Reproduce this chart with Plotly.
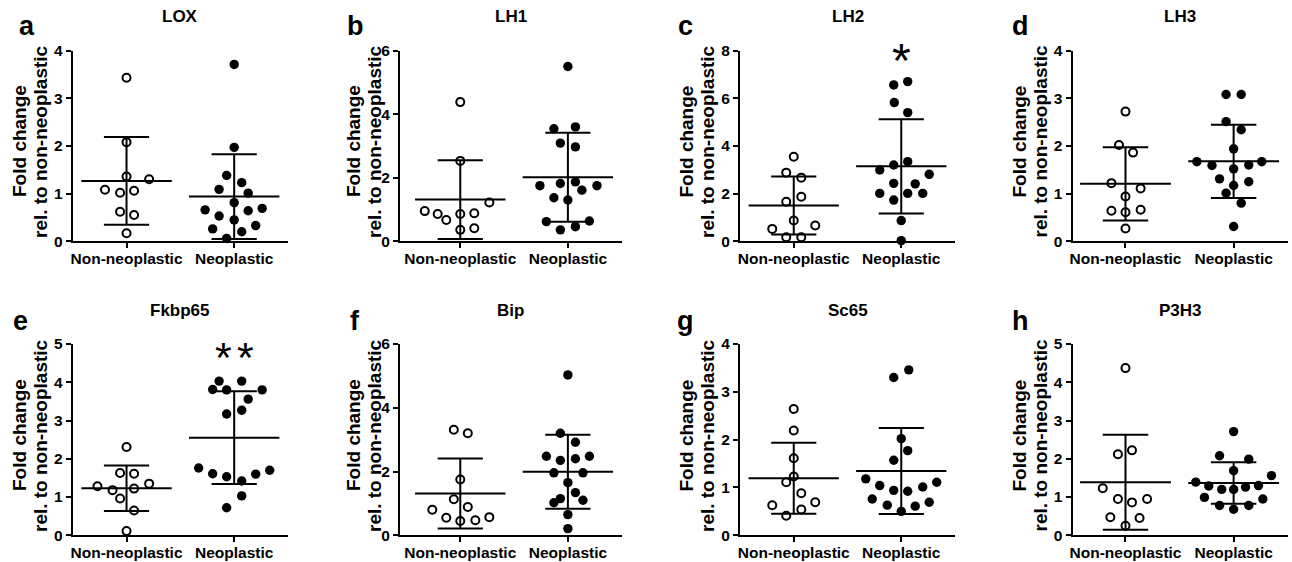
import numpy as np
import plotly.graph_objects as go

# ---------------- data ----------------
groups = ["Non-neoplastic", "Neoplastic"]
titles = ["LOX", "LH1", "LH2", "LH3", "Fkbp65", "Bip", "Sc65", "P3H3"]
letters = ["a", "b", "c", "d", "e", "f", "g", "h"]
y_max = [4, 6, 8, 4, 5, 6, 4, 5]
y_dtick = [1, 2, 2, 1, 1, 2, 1, 1]
significance = ["", "", "*", "", "**", "", "", ""]

lox_non = [3.43, 2.08, 1.36, 1.30, 1.08, 1.02, 1.06, 0.62, 0.55, 0.17]
lox_non_dx = [0, 0, 0, 0.21, -0.2, -0.06, 0.07, -0.06, 0.07, 0]
lox_neo = [3.71, 1.97, 1.38, 1.23, 1.09, 1.01, 0.81, 0.66, 0.53, 0.64, 0.69, 0.45, 0.26, 0.20, 0.33, 0.06]
lox_neo_dx = [0, 0, -0.07, 0.07, -0.14, 0.13, 0, -0.27, -0.14, 0.13, 0.26, 0, -0.2, 0.07, 0.2, -0.07]

lh1_non = [4.38, 2.53, 1.22, 0.95, 0.86, 0.67, 0.86, 0.88, 0.36, 0.41]
lh1_non_dx = [0, 0, 0.27, -0.33, -0.21, -0.13, 0, 0.13, 0, 0.13]
lh1_neo = [5.50, 3.54, 3.60, 3.09, 2.97, 1.75, 1.82, 1.87, 1.75, 1.61, 1.37, 1.30, 0.62, 0.64, 0.36, 0.46]
lh1_neo_dx = [0, -0.13, 0.07, -0.07, 0.07, -0.26, -0.07, 0.07, 0.27, 0.13, -0.13, 0, -0.2, 0.2, -0.07, 0.07]

lh2_non = [3.55, 2.88, 2.67, 1.87, 1.66, 0.87, 0.52, 0.66, 0.17, 0.17]
lh2_non_dx = [0, -0.07, 0.07, 0.07, -0.07, 0, -0.2, 0.2, -0.07, 0.07]
lh2_neo = [6.56, 6.70, 5.82, 5.40, 2.99, 3.20, 3.34, 2.81, 2.43, 2.41, 2.01, 2.01, 2.01, 1.73, 0.87, 0.03]
lh2_neo_dx = [-0.07, 0.06, -0.065, 0.06, -0.2, -0.07, 0.06, 0.26, -0.07, 0.13, -0.2, 0.06, 0.2, -0.07, 0, 0]

lh3_non = [2.72, 2.02, 1.86, 1.22, 1.11, 0.94, 0.64, 0.61, 0.66, 0.27]
lh3_non_dx = [0, -0.06, 0.07, -0.13, 0.14, 0, -0.13, 0, 0.14, 0]
lh3_neo = [3.08, 3.08, 2.51, 2.34, 1.94, 1.67, 1.59, 1.52, 1.60, 1.67, 1.31, 1.25, 1.17, 1.01, 0.80, 0.31]
lh3_neo_dx = [-0.07, 0.07, -0.07, 0.07, 0, -0.34, -0.2, 0, 0.14, 0.26, -0.13, 0.14, 0, -0.07, 0.07, 0]

fkbp65_non = [2.31, 1.63, 1.61, 1.35, 1.28, 1.18, 1.22, 0.96, 0.65, 0.11]
fkbp65_non_dx = [0, -0.06, 0.07, 0.21, -0.27, -0.13, 0.07, -0.06, 0.07, 0]
fkbp65_neo = [4.03, 4.03, 3.81, 3.80, 3.80, 3.56, 3.17, 3.27, 1.76, 1.61, 1.53, 1.42, 1.60, 1.70, 1.03, 0.72]
fkbp65_neo_dx = [-0.14, 0.07, -0.2, -0.07, 0.26, 0.13, -0.07, 0.07, -0.33, -0.2, -0.07, 0.07, 0.2, 0.33, 0.07, -0.07]

bip_non = [3.31, 3.20, 1.75, 1.13, 0.89, 0.80, 0.55, 0.45, 0.47, 0.57]
bip_non_dx = [-0.06, 0.07, 0, -0.06, 0.07, -0.26, -0.13, 0, 0.14, 0.27]
bip_neo = [5.03, 3.20, 2.92, 2.48, 2.48, 2.35, 2.40, 1.96, 1.96, 1.65, 1.15, 1.34, 1.02, 1.10, 0.65, 0.21]
bip_neo_dx = [0, -0.07, 0.07, -0.2, 0.2, -0.07, 0.07, -0.13, 0.14, 0, -0.07, 0.07, -0.13, 0.14, 0, 0]

sc65_non = [2.64, 2.19, 1.61, 1.23, 1.11, 0.88, 0.63, 0.69, 0.54, 0.41]
sc65_non_dx = [0, 0, 0, 0, -0.07, 0.07, -0.2, 0.2, 0.07, -0.07]
sc65_neo = [3.46, 3.30, 2.02, 1.77, 1.57, 1.18, 1.04, 0.94, 0.92, 1.01, 1.11, 0.76, 0.63, 0.61, 0.69, 0.50]
sc65_neo_dx = [0.07, -0.07, 0, 0.06, -0.07, -0.33, -0.2, -0.07, 0.06, 0.2, 0.33, -0.27, -0.13, 0.13, 0.26, 0]

p3h3_non = [4.37, 2.12, 2.22, 1.23, 0.95, 0.86, 0.95, 0.47, 0.45, 0.25]
p3h3_non_dx = [0, -0.07, 0.06, -0.21, -0.07, 0.06, 0.2, -0.14, 0.13, 0]
p3h3_neo = [2.71, 2.08, 1.99, 1.69, 1.56, 1.39, 1.29, 1.20, 1.20, 1.26, 1.30, 0.99, 0.95, 0.78, 0.68, 0.78]
p3h3_neo_dx = [0, -0.13, 0.14, 0, 0.35, -0.35, -0.23, -0.11, 0, 0.11, 0.23, -0.27, 0.27, -0.13, 0, 0.14]

panels = [
    (lox_non, lox_non_dx, lox_neo, lox_neo_dx),
    (lh1_non, lh1_non_dx, lh1_neo, lh1_neo_dx),
    (lh2_non, lh2_non_dx, lh2_neo, lh2_neo_dx),
    (lh3_non, lh3_non_dx, lh3_neo, lh3_neo_dx),
    (fkbp65_non, fkbp65_non_dx, fkbp65_neo, fkbp65_neo_dx),
    (bip_non, bip_non_dx, bip_neo, bip_neo_dx),
    (sc65_non, sc65_non_dx, sc65_neo, sc65_neo_dx),
    (p3h3_non, p3h3_non_dx, p3h3_neo, p3h3_neo_dx),
]

# ---------------- layout geometry (pixels) ----------------
W, H = 1292, 562
col_left = [72.7, 400, 740, 1072.5]
col_right = [288, 621.7, 955, 1287.7]
col_xmin = [-0.5, -0.56, -0.5, -0.49]
row_top = [50.6, 344]
row_bot = [241.3, 535.3]
ytitle_l1 = [19.5, 353.5, 686, 1019]
ytitle_l2 = [40.5, 374.5, 707.5, 1040]
ytitle_yc = [141.5, 435.5]
letter_x = [[27, 355, 685, 1020.5], [20, 355, 685, 1020]]
letter_yc = [25.6, 320.6]
title_yc = [16.6, 310.6]

FONT = "Liberation Sans, Arial, Helvetica, sans-serif"
BLACK = "#000000"


def px_x(p):
    return p / W


def px_y(p):
    return 1 - p / H


fig = go.Figure()
annotations = []
layout = {}

for i, (non, non_dx, neo, neo_dx) in enumerate(panels):
    r, c = divmod(i, 4)
    n = i + 1
    xa = "x" if n == 1 else f"x{n}"
    ya = "y" if n == 1 else f"y{n}"
    xkey = "xaxis" if n == 1 else f"xaxis{n}"
    ykey = "yaxis" if n == 1 else f"yaxis{n}"

    # points
    for g, (vals, dx) in enumerate([(non, non_dx), (neo, neo_dx)]):
        xs = [g + d for d in dx]
        if g == 0:
            marker = dict(size=8, color="white", line=dict(color=BLACK, width=2))
        else:
            marker = dict(size=9.4, color=BLACK, line=dict(color=BLACK, width=0))
        fig.add_trace(go.Scatter(x=xs, y=vals, mode="markers", marker=marker,
                                 xaxis=xa, yaxis=ya, showlegend=False,
                                 cliponaxis=False, hoverinfo="skip"))

    # mean +/- SD
    lx, ly = [], []
    for g, vals in enumerate([non, neo]):
        arr = np.array(vals, dtype=float)
        m = arr.mean()
        s = arr.std(ddof=1)
        lx += [g - 0.42, g + 0.42, None, g - 0.21, g + 0.21, None,
               g - 0.21, g + 0.21, None, g, g, None]
        ly += [m, m, None, m + s, m + s, None, m - s, m - s, None, m - s, m + s, None]
    fig.add_trace(go.Scatter(x=lx, y=ly, mode="lines",
                             line=dict(color=BLACK, width=2),
                             xaxis=xa, yaxis=ya, showlegend=False,
                             cliponaxis=False, hoverinfo="skip"))

    layout[xkey] = dict(
        domain=[px_x(col_left[c]), px_x(col_right[c])],
        range=[col_xmin[c], 1.5], anchor=ya, automargin=False,
        tickmode="array", tickvals=[0, 1], ticktext=groups,
        showline=True, linecolor=BLACK, linewidth=2,
        ticks="outside", ticklen=5, tickwidth=2, tickcolor=BLACK,
        ticklabelstandoff=-3,
        showgrid=False, zeroline=False, fixedrange=True,
        tickfont=dict(family=FONT, size=15.5, color=BLACK, weight="bold"),
    )
    layout[ykey] = dict(
        domain=[px_y(row_bot[r]), px_y(row_top[r])],
        range=[0, y_max[i]], anchor=xa, automargin=False,
        tickmode="linear", tick0=0, dtick=y_dtick[i],
        showline=True, linecolor=BLACK, linewidth=2,
        ticks="outside", ticklen=5, tickwidth=2, tickcolor=BLACK,
        showgrid=False, zeroline=False, fixedrange=True,
        tickfont=dict(family=FONT, size=15.5, color=BLACK, weight="bold"),
    )

    xc = (col_left[c] + col_right[c]) / 2
    # panel title
    annotations.append(dict(text=titles[i], x=px_x(xc), y=px_y(title_yc[r]),
                            xref="paper", yref="paper", xanchor="center", yanchor="middle",
                            showarrow=False,
                            font=dict(family=FONT, size=17, color=BLACK, weight="bold")))
    # panel letter
    annotations.append(dict(text=letters[i], x=px_x(letter_x[r][c]), y=px_y(letter_yc[r]),
                            xref="paper", yref="paper", xanchor="center", yanchor="middle",
                            showarrow=False,
                            font=dict(family=FONT, size=27, color=BLACK, weight="bold")))
    # y-axis title (two lines)
    for txt, xp in [("Fold change", ytitle_l1[c]), ("rel. to non-neoplastic", ytitle_l2[c])]:
        annotations.append(dict(text=txt, x=px_x(xp), y=px_y(ytitle_yc[r]),
                                xref="paper", yref="paper", xanchor="center", yanchor="middle",
                                textangle=-90, showarrow=False,
                                font=dict(family=FONT, size=19, color=BLACK, weight="bold")))
    # significance stars
    sig = significance[i]
    if sig:
        k = len(sig)
        for j in range(k):
            shift = (j - (k - 1) / 2) * 22
            annotations.append(dict(text="*", x=1, y=y_max[i], xref=xa, yref=ya,
                                    xanchor="center", yanchor="middle", xshift=shift,
                                    yshift=-10 if k == 1 else -13,
                                    showarrow=False,
                                    font=dict(family=FONT, size=48 if k == 1 else 43, color=BLACK)))

layout["annotations"] = annotations
fig.update_layout(**layout)
fig.update_layout(width=W, height=H,
                  margin=dict(l=0, r=0, t=0, b=0, pad=0, autoexpand=False),
                  paper_bgcolor="white", plot_bgcolor="white", showlegend=False,
                  font=dict(family=FONT, color=BLACK))

fig.write_html("out.html", config={"displayModeBar": False},
               post_script="document.body.style.margin='0px';document.body.style.overflow='hidden';")
